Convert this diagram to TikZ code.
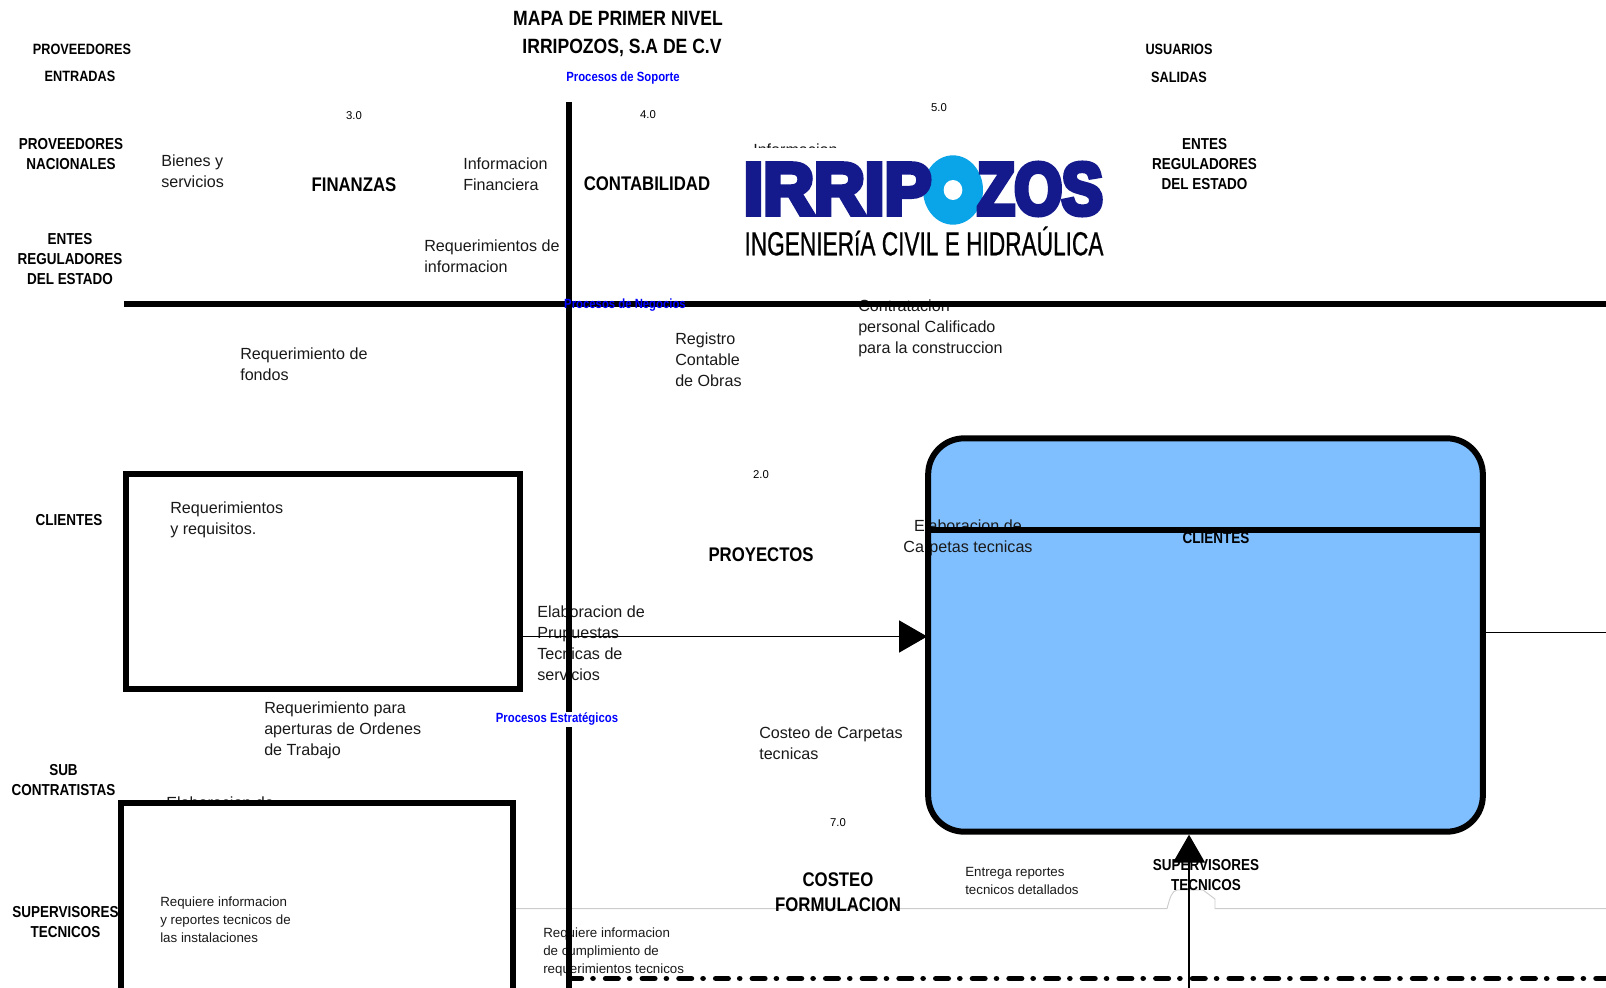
\documentclass[tikz,border=0pt]{standalone}
\usepackage{fontspec}
\usepackage{xcolor}
\usetikzlibrary{arrows.meta,positioning,shapes.geometric}
\setmainfont{Liberation Sans}
\newfontfamily\narrowfont[FakeStretch=0.85]{Liberation Sans}
\newfontfamily\logofont[FakeStretch=0.96,FakeBold=7]{Liberation Sans}
\newfontfamily\logofontz[FakeStretch=0.83,FakeBold=7]{Liberation Sans}
\newfontfamily\logosub[FakeStretch=0.68,FakeBold=0.6]{Liberation Sans}
\definecolor{procblue}{HTML}{80BFFF}
\definecolor{logonavy}{HTML}{141A8C}
\definecolor{logocyan}{HTML}{0AA5E8}
\definecolor{softgray}{HTML}{CCCCCC}
\tikzset{
  txt/.style={inner sep=0pt, anchor=west, align=left, font=\fontsize{12.1}{15.7}\selectfont, text=black!90},
  txtc/.style={txt, anchor=center, align=center},
  small/.style={txt, font=\fontsize{10}{13.8}\selectfont},
  num/.style={inner sep=0pt, font=\fontsize{8.5}{10}\selectfont},
  ent/.style={inner sep=0pt, align=center, font=\narrowfont\bfseries\fontsize{11.9}{15}\selectfont},
  head/.style={ent, font=\narrowfont\bfseries\fontsize{11.2}{15}\selectfont},
  proc/.style={inner sep=0pt, align=center, font=\narrowfont\bfseries\fontsize{14.8}{18.6}\selectfont},
  zone/.style={inner sep=0pt, text=blue, font=\narrowfont\bfseries\fontsize{10}{12}\selectfont},
  heavy/.style={line width=4.2pt},
  frame/.style={rectangle, line width=4.5pt, inner sep=0pt},
  flow/.style={line width=0.8pt, -{Triangle[length=21pt,width=24pt]}}
}
\begin{document}
\begin{tikzpicture}[x=0.75pt, y=-0.75pt]
  \useasboundingbox (0,0) rectangle (1606,988);

  \node[frame, fill=procblue, rounded corners=27pt, minimum width=416pt, minimum height=295pt] (procFill) at (1205.5,635) {};

  \coordinate (grayL) at (513,908.7);
  \coordinate (grayR) at (1606,908.7);
  \draw[softgray, line width=0.7pt] (grayL) -- (1167,908.7) .. controls (1170,897) and (1172,891) .. (1177,890)
    -- (1203,890) -- (1215,899) -- (1215,908.7) -- (grayR);

  \node[ent, font=\narrowfont\bfseries\fontsize{15.5}{20}\selectfont] (title) at (618,18.5) {MAPA DE PRIMER NIVEL};
  \node[ent, font=\narrowfont\bfseries\fontsize{15.5}{20}\selectfont] (company) at (622,48) {IRRIPOZOS, S.A DE C.V};
  \node[head] (prov) at (82,49) {PROVEEDORES};
  \node[head] (entr) at (80,76) {ENTRADAS};
  \node[head] (usr) at (1179,49) {USUARIOS};
  \node[head] (sal) at (1179,77) {SALIDAS};
  \node[zone] (soporte) at (623,78) {Procesos de Soporte};

  \node[num] (n3) at (354,116) {3.0};
  \node[num] (n4) at (648,115) {4.0};
  \node[num] (n5) at (939,107.5) {5.0};
  \node[num] (n2) at (761,475) {2.0};
  \node[num] (n7) at (838,823) {7.0};

  \node[ent] (provnac) at (71,154) {PROVEEDORES\\NACIONALES};
  \node[ent] (entes) at (70,259) {ENTES\\REGULADORES\\DEL ESTADO};
  \node[ent] (entesr) at (1204.5,164.5) {ENTES\\REGULADORES\\DEL ESTADO};
  \node[ent] (cli) at (69,520) {CLIENTES};
  \node[ent] (sub) at (63.5,780) {SUB\\CONTRATISTAS};
  \node[ent] (supl) at (65.5,922.5) {SUPERVISORES\\TECNICOS};
  \node[ent] (clir) at (1216,538.5) {CLIENTES};

  \node[proc] (fin) at (354,185) {FINANZAS};
  \node[proc] (cont) at (647,184) {CONTABILIDAD};
  \node[proc] (proy) at (761,555) {PROYECTOS};
  \node[proc] (cost) at (838,892.5) {COSTEO\\FORMULACION};

  \node[txt] (bienes) at (161,171.5) {Bienes y\\servicios};
  \node[txt] (infofin) at (463,174.5) {Informacion\\Financiera};
  \node[txt] (reqinfo) at (424,256.5) {Requerimientos de\\informacion};
  \node[txt] (regis) at (675,359.5) {Registro\\Contable\\de Obras};
  \node[txt] (contr) at (858,328) {Contratacion\\personal Calificado\\para la construccion};
  \node[txt] (reqfon) at (240,364.5) {Requerimiento de\\fondos};
  \node[txt] (reqs) at (170,519.5) {Requerimientos\\y requisitos.};
  \node[txtc] (elabc) at (968,537.5) {Elaboracion de\\Carpetas tecnicas};
  \node[txt] (elabp) at (537,643) {Elaboracion de\\Prupuestas\\Tecnicas de\\servicios};
  \node[txt] (reqord) at (264,730.5) {Requerimiento para\\aperturas de Ordenes\\de Trabajo};
  \node[txt] (cosc) at (759,743.5) {Costeo de Carpetas\\tecnicas};
  \node[txt] (infoh) at (753,149.5) {Informacion};
  \node[txt] (elabh) at (166,803) {Elaboracion de};
  \node[small] (entrega) at (965,881) {Entrega reportes\\tecnicos detallados};
  \node[small] (reqcum) at (543,952) {Requiere informacion\\de cumplimiento de\\requerimientos tecnicos};

  \node[fill=white, minimum width=277pt, minimum height=90pt, inner sep=0pt] (logobg) at (924,208) {};
  \node[ellipse, fill=logocyan, inner sep=0pt, minimum width=45pt, minimum height=52pt] (logoo) at (953,190) {};
  \node[ellipse, fill=white, inner sep=0pt, minimum width=14pt, minimum height=15pt] (logoh) at (953,190) {};
  \node[inner sep=0pt, text=logonavy, font=\logofont\bfseries\fontsize{55}{55}\selectfont] (logoa) at (837.5,189) {IRRIP};
  \node[inner sep=0pt, text=logonavy, font=\logofontz\bfseries\fontsize{55}{55}\selectfont] (logob) at (1040,189) {ZOS};
  \node[inner sep=0pt, text=black, font=\logosub\fontsize{25}{25}\selectfont] (logos) at (924,241) {INGENIERíA CIVIL E HIDRAÚLICA};

  \node[frame, draw, minimum width=295pt, minimum height=161pt] (cliBox) at (323,581.5) {};
  \node[frame, draw, fill=white, minimum width=294pt, minimum height=200pt] (supBox) at (317,936) {};
  \node[small] (reqrep) at (160,919.7) {Requiere informacion\\y reportes tecnicos de\\las instalaciones};

  \node[frame, draw, rounded corners=27pt, minimum width=416pt, minimum height=295pt] (procBox) at (procFill) {};
  \coordinate (rule) at (procBox.center |- 0,530);
  \draw[heavy] (procBox.west |- rule) -- (procBox.east |- rule);

  \coordinate (inArrow) at (procBox.west |- 0,636.5);
  \draw[flow, shorten >=-1.5pt] (cliBox.east |- inArrow) -- (inArrow);
  \coordinate (outEnd) at (1606,632.5);
  \draw[line width=0.8pt] (procBox.east |- outEnd) -- (outEnd);
  \coordinate (supEnd) at (1189,988);
  \draw[flow] (supEnd) -- (procBox.south -| supEnd);

  \coordinate (soporteTop) at (569,102);
  \coordinate (bottomEnd) at (569,988);
  \draw[heavy] (soporteTop) -- (bottomEnd);
  \coordinate (negL) at (124,304);
  \coordinate (negR) at (1606,304);
  \draw[heavy] (negL) -- (negR);
  \coordinate (dashEnd) at (1606,978.5);
  \draw[heavy, line cap=round, dash pattern=on 9.3pt off 8.7pt on 0.01pt off 9.5pt] (bottomEnd |- dashEnd) -- (dashEnd);

  \node[ent] (supr) at (1206,875.5) {SUPERVISORES\\TECNICOS};
  \node[zone] (negocios) at (625,305) {Procesos de Negocios};
  \node[zone, fill=white, inner ysep=1pt] (estrat) at (557,719.5) {Procesos Estratégicos};
\end{tikzpicture}
\end{document}
